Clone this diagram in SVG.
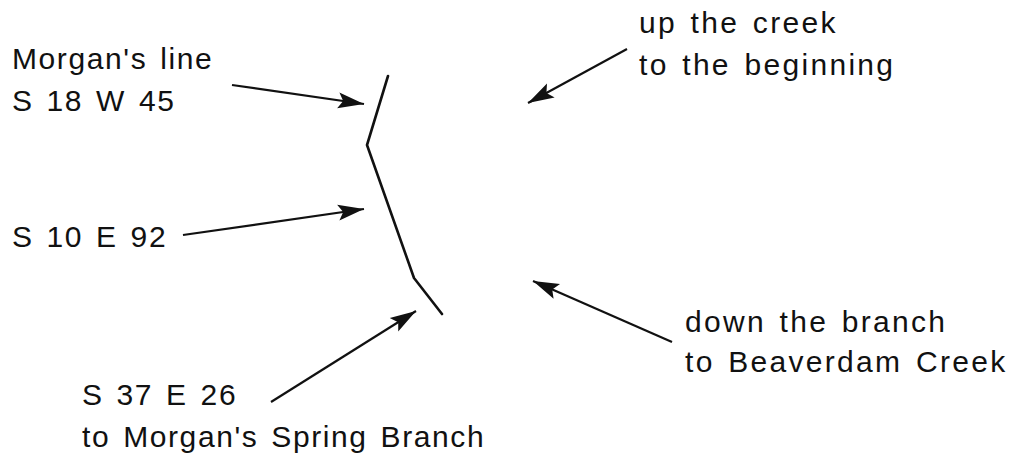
<svg xmlns="http://www.w3.org/2000/svg" width="1013" height="461" viewBox="0 0 1013 461">
<style>
text{font-family:"Liberation Sans",Arial,sans-serif;font-size:30px;letter-spacing:1.6px;word-spacing:3px;fill:#111}
.wide text{letter-spacing:2.3px}
.arr{stroke:#111;stroke-width:2.2;fill:none;marker-end:url(#ah)}
.boundary{stroke:#111;stroke-width:2.6;fill:none;stroke-linejoin:round;stroke-linecap:round}
</style>
<defs>
<marker id="ah" markerUnits="userSpaceOnUse" markerWidth="28" markerHeight="20" viewBox="0 0 28 20" refX="26" refY="10" orient="auto">
<path d="M0,2 L26,10 L0,18 L5,10 Z" fill="#111"/>
</marker>
</defs>
<rect width="1013" height="461" fill="#fff"/>
<g id="boundary-line">
<polyline class="boundary" points="388,76 367,145 414,278 442,314"/>
</g>
<g id="label-morgans-line">
<text x="12" y="69">Morgan's line</text>
<text x="12" y="111">S 18 W 45</text>
</g>
<g id="label-s10e92">
<text x="12" y="247">S 10 E 92</text>
</g>
<g id="label-s37e26">
<text x="82" y="405">S 37 E 26</text>
<text x="82" y="447">to Morgan's Spring Branch</text>
</g>
<g id="label-up-creek" class="wide">
<text x="639" y="33">up the creek</text>
<text x="639" y="75">to the beginning</text>
</g>
<g id="label-down-branch" class="wide">
<text x="685" y="332">down the branch</text>
<text x="685" y="372">to Beaverdam Creek</text>
</g>
<g id="connectors">
<line class="arr" x1="232" y1="85" x2="364" y2="104"/>
<line class="arr" x1="183" y1="235" x2="364" y2="209"/>
<line class="arr" x1="271" y1="402" x2="416" y2="311"/>
<line class="arr" x1="627" y1="49" x2="528" y2="103"/>
<line class="arr" x1="672" y1="342" x2="533" y2="281"/>
</g>
</svg>
